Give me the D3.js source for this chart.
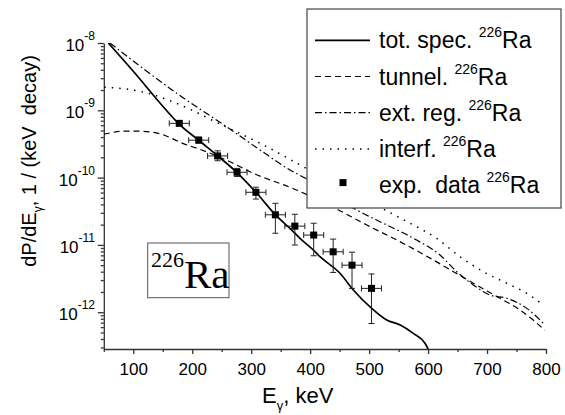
<!DOCTYPE html>
<html><head><meta charset="utf-8">
<script src="https://cdn.jsdelivr.net/npm/d3@7"></script>
<style>body{margin:0;background:#fff} svg{display:block}</style>
</head><body>
<svg id="chart" width="565" height="415"></svg>
<script>
// ---- data ----
const expEnergy = [178, 211, 243, 276, 308, 341, 374, 406, 439, 471, 504];
const expValue  = [6.4e-10, 3.6e-10, 2.1e-10, 1.2e-10, 6.05e-11, 2.8e-11, 1.9e-11, 1.4e-11, 7.9e-12, 5.0e-12, 2.26e-12];
const expHigh   = [6.9e-10, 4.0e-10, 2.5e-10, 1.37e-10, 7.2e-11, 4.15e-11, 2.85e-11, 2.1e-11, 1.22e-11, 7.8e-12, 3.7e-12];
const expLow    = [5.9e-10, 3.27e-10, 1.78e-10, 1.04e-10, 4.8e-11, 1.49e-11, 9.97e-12, 6.9e-12, 3.9e-12, 2.26e-12, 6.8e-13];
const expEnergyErr = 17;

const totE   = [57.6, 102.9, 148.2, 176.4, 210.3, 243, 275.4, 308.1, 340.9, 368.7, 382.8, 405.3, 416.7, 450.6, 473.2, 504.4, 529.8, 552.8, 574.9, 594.8, 600];
const totVal = [1e-8, 3.55e-9, 1.2e-9, 6.41e-10, 3.62e-10, 2.11e-10, 1.2e-10, 6.05e-11, 2.81e-11, 1.66e-11, 1.25e-11, 8.4e-12, 6.68e-12, 3.79e-12, 2.14e-12, 1.14e-12, 7.66e-13, 6.46e-13, 4.85e-13, 3.45e-13, 2.84e-13];

const tunE   = [50, 60, 85, 110, 148, 185, 216, 264, 298, 377, 448, 496, 552, 609, 643, 682, 722, 756, 798];
const tunVal = [4.4e-10, 4.6e-10, 4.92e-10, 4.9e-10, 4.4e-10, 3.2e-10, 2.57e-10, 1.72e-10, 1.22e-10, 6.55e-11, 3.3e-11, 1.98e-11, 1.12e-11, 5.97e-12, 4.0e-12, 2.54e-12, 1.61e-12, 1.08e-12, 5.4e-13];

const extE   = [60.5, 119.9, 182.6, 213.2, 259, 315, 365.8, 391.3, 478.9, 529.8, 580.7, 620.2, 648.5, 676.7, 705, 733.4, 767.3, 798.3];
const extVal = [1e-8, 3.97e-9, 1.58e-9, 1.04e-9, 5.65e-10, 2.57e-10, 1.30e-10, 9.86e-11, 3.3e-11, 1.98e-11, 1.18e-11, 7.08e-12, 4.0e-12, 2.54e-12, 1.80e-12, 1.61e-12, 1.14e-12, 6.46e-13];

const intE   = [50.8, 91.6, 125.5, 159.4, 199.1, 233, 326.3, 388.4, 532.5, 574.9, 614.6, 654.1, 693.7, 733.4, 767.3, 795.4];
const intVal = [2.2e-9, 2.05e-9, 1.79e-9, 1.42e-9, 1.01e-9, 7.18e-10, 2.88e-10, 1.45e-10, 3.11e-11, 1.98e-11, 1.25e-11, 6.68e-12, 4.0e-12, 2.69e-12, 1.91e-12, 1.28e-12];

const xMajorTicks = [100, 200, 300, 400, 500, 600, 700, 800];
const xMinorTicks = [50, 150, 250, 350, 450, 550, 650, 750];
const yExponents  = [-8, -9, -10, -11, -12];

const legendLabels = ["tot. spec. ", "tunnel. ", "ext. reg. ", "interf. ", "exp.\u00A0 data "];
const isotope = "226";

// ---- drawing ----
const svg = d3.select("#chart");
const x = d3.scaleLinear().domain([50, 800]).range([103.8, 546]);
const y = d3.scaleLog().domain([2.84e-13, 1e-8]).range([349, 43]);
const SANS = "'Liberation Sans', Arial, Helvetica, sans-serif";
const SERIF = "'Liberation Serif', 'Times New Roman', serif";
const axisColor = "#333";

svg.append("defs").append("clipPath").attr("id", "plotclip")
  .append("rect").attr("x", x.range()[0]).attr("y", y.range()[1])
  .attr("width", x.range()[1] - x.range()[0]).attr("height", y.range()[0] - y.range()[1]);

// x axis
const gx = svg.append("g").attr("transform", `translate(0,${y.range()[0]})`);
gx.call(d3.axisBottom(x).tickValues(xMajorTicks).tickSize(5).tickSizeOuter(0).tickPadding(9).tickFormat(d3.format("d")));
const gxm = svg.append("g").attr("transform", `translate(0,${y.range()[0]})`);
gxm.call(d3.axisBottom(x).tickValues(xMinorTicks).tickSize(3).tickSizeOuter(0).tickFormat(""));
gxm.select(".domain").remove();
[gx, gxm].forEach(g => {
  g.selectAll("path,line").attr("stroke", axisColor).attr("stroke-width", 1.3);
});
gx.selectAll("text").attr("font-family", SANS).attr("font-size", 17).attr("fill", "#000");

// y axis
const yMajor = yExponents.map(e => Math.pow(10, e));
const yMinor = [];
for (let e = -13; e <= -9; e++) for (let k = 2; k <= 9; k++) {
  const v = k * Math.pow(10, e);
  if (v >= y.domain()[0] && v <= y.domain()[1]) yMinor.push(v);
}
const gy = svg.append("g").attr("transform", `translate(${x.range()[0]},0)`);
gy.call(d3.axisLeft(y).tickValues(yMajor).tickSize(6).tickSizeOuter(0).tickFormat(""));
const gym = svg.append("g").attr("transform", `translate(${x.range()[0]},0)`);
gym.call(d3.axisLeft(y).tickValues(yMinor).tickSize(3).tickSizeOuter(0).tickFormat(""));
gym.select(".domain").remove();
[gy, gym].forEach(g => g.selectAll("path,line").attr("stroke", axisColor).attr("stroke-width", 1.3));

yExponents.forEach(e => {
  const t = svg.append("text").attr("x", 95).attr("y", y(Math.pow(10, e)) + 8)
    .attr("text-anchor", "end").attr("font-family", SANS).attr("font-size", 17);
  t.append("tspan").text("10");
  t.append("tspan").attr("font-size", 12).attr("dy", -11).text("-" + Math.abs(e));
});

// axis titles
const xt = svg.append("text").attr("x", 262).attr("y", 403).attr("font-family", SANS).attr("font-size", 22);
xt.append("tspan").text("E");
xt.append("tspan").attr("font-size", 13).attr("dy", 7).text("γ");
xt.append("tspan").attr("dy", -7).text(", keV");

const yt = svg.append("text").attr("transform", "translate(36,161) rotate(-90)")
  .attr("text-anchor", "middle").attr("font-family", SANS).attr("font-size", 20);
yt.append("tspan").text("dP/dE");
yt.append("tspan").attr("font-size", 12).attr("dy", 6).text("γ");
yt.append("tspan").attr("dy", -6).text(", 1 / (keV\u00A0 decay)");

// curves
const line = d3.line().x(d => x(d[0])).y(d => y(d[1])).curve(d3.curveMonotoneX);
const plot = svg.append("g").attr("clip-path", "url(#plotclip)");
const series = [
  {E: totE, V: totVal, dash: null, w: 1.7},
  {E: tunE, V: tunVal, dash: "6,4", w: 1.2},
  {E: extE, V: extVal, dash: "7,3,1.5,3", w: 1.2},
  {E: intE, V: intVal, dash: "1.5,6", w: 1.5}
];
series.forEach(s => {
  plot.append("path").datum(d3.zip(s.E, s.V)).attr("d", line)
    .attr("fill", "none").attr("stroke", "#000").attr("stroke-width", s.w)
    .attr("stroke-dasharray", s.dash);
});

// experimental points with error bars
const pts = svg.append("g");
expEnergy.forEach((e, i) => {
  const cx = x(e), cy = y(expValue[i]);
  const g = pts.append("g").attr("stroke", "#222").attr("stroke-width", 1);
  const x0 = x(e - expEnergyErr), x1 = x(e + expEnergyErr);
  const y0 = y(expHigh[i]), y1 = y(expLow[i]);
  g.append("line").attr("x1", x0).attr("x2", x1).attr("y1", cy).attr("y2", cy);
  g.append("line").attr("x1", x0).attr("x2", x0).attr("y1", cy - 3).attr("y2", cy + 3);
  g.append("line").attr("x1", x1).attr("x2", x1).attr("y1", cy - 3).attr("y2", cy + 3);
  g.append("line").attr("x1", cx).attr("x2", cx).attr("y1", y0).attr("y2", y1);
  g.append("line").attr("x1", cx - 3).attr("x2", cx + 3).attr("y1", y0).attr("y2", y0);
  g.append("line").attr("x1", cx - 3).attr("x2", cx + 3).attr("y1", y1).attr("y2", y1);
  pts.append("rect").attr("x", cx - 3.5).attr("y", cy - 3.5).attr("width", 7).attr("height", 7).attr("fill", "#000");
});

// 226Ra label box
svg.append("rect").attr("x", 147.7).attr("y", 243).attr("width", 81.3).attr("height", 54.7)
  .attr("fill", "#fff").attr("stroke", "#555").attr("stroke-width", 1);
const ra = svg.append("text").attr("x", 151).attr("y", 288).attr("font-family", SERIF).attr("font-size", 41);
ra.append("tspan").attr("font-size", 22).attr("dy", -21).text(isotope);
ra.append("tspan").attr("dy", 21).text("Ra");

// legend
const lg = svg.append("g");
lg.append("rect").attr("x", 307).attr("y", 9).attr("width", 254).attr("height", 199)
  .attr("fill", "#fff").attr("stroke", "#444").attr("stroke-width", 1.2);
legendLabels.forEach((lab, i) => {
  const by = 48.3 + i * 36.2;
  if (i < 4) {
    const s = series[i];
    lg.append("line").attr("x1", 315).attr("x2", 370).attr("y1", by - 8).attr("y2", by - 8)
      .attr("stroke", "#000").attr("stroke-width", s.w).attr("stroke-dasharray", s.dash);
  } else {
    lg.append("rect").attr("x", 339.5).attr("y", by - 14).attr("width", 7).attr("height", 7).attr("fill", "#000");
  }
  const t = lg.append("text").attr("x", 379).attr("y", by).attr("font-family", SANS).attr("font-size", 23)
    .attr("xml:space", "preserve");
  t.append("tspan").text(lab);
  t.append("tspan").attr("font-size", 14).attr("dy", -11).text(isotope);
  t.append("tspan").attr("dy", 11).text("Ra");
});
</script>
</body></html>
